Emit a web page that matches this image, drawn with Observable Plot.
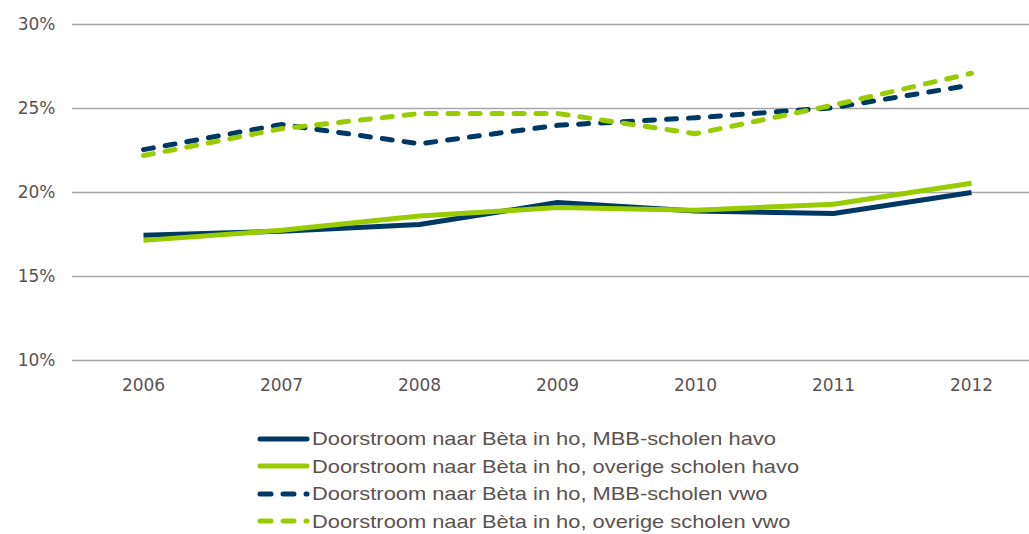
<!DOCTYPE html>
<html>
<head>
<meta charset="utf-8">
<script src="https://cdn.jsdelivr.net/npm/d3@7"></script>
<script src="https://cdn.jsdelivr.net/npm/@observablehq/plot@0.6"></script>
<style>
  body { margin: 0; background: #fff; }
  #legend { margin-left: 257px; margin-top: 25px; font-family: "Liberation Sans", Arial, sans-serif; font-size: 19px; color: #5a5250; }
  .item { height: 27.5px; line-height: 27.5px; display: flex; align-items: center; }
  .item svg { margin-right: 1px; }
  .item span { display: inline-block; transform: scaleX(1.15); transform-origin: left center; white-space: nowrap; }
</style>
</head>
<body>
<div id="chart"></div>
<div id="legend"></div>
<script>
const years = [2006, 2007, 2008, 2009, 2010, 2011, 2012];
const seriesNames = [
  "Doorstroom naar Bèta in ho, MBB-scholen havo",
  "Doorstroom naar Bèta in ho, overige scholen havo",
  "Doorstroom naar Bèta in ho, MBB-scholen vwo",
  "Doorstroom naar Bèta in ho, overige scholen vwo"
];
const mbbHavo     = [17.45, 17.7, 18.1, 19.4, 18.9, 18.75, 20.0];
const overigeHavo = [17.15, 17.75, 18.6, 19.1, 18.95, 19.3, 20.55];
const mbbVwo      = [22.55, 24.05, 22.9, 24.0, 24.45, 25.05, 26.4];
const overigeVwo  = [22.2, 23.8, 24.7, 24.7, 23.5, 25.2, 27.1];
const yTicks = [10, 15, 20, 25, 30];
const colors = ["#003865", "#99cc00", "#003865", "#99cc00"];
const dashed = [false, false, true, true];

const allValues = [mbbHavo, overigeHavo, mbbVwo, overigeVwo];
const data = [];
allValues.forEach((vals, s) => vals.forEach((v, i) => data.push({series: seriesNames[s], year: years[i], value: v})));

const lineMarks = seriesNames.map((name, s) =>
  Plot.line(data.filter(d => d.series === name), {
    x: "year", y: "value",
    stroke: colors[s], strokeWidth: 5,
    strokeLinecap: dashed[s] ? "round" : "butt",
    strokeLinejoin: "round",
    strokeDasharray: dashed[s] ? "10,12" : null
  })
);

const chart = Plot.plot({
  width: 1029,
  height: 400,
  marginLeft: 72,
  marginRight: 0,
  marginTop: 24,
  marginBottom: 40,
  style: {fontFamily: "DejaVu Sans, sans-serif", fontSize: "17px", color: "#5a5250", background: "#fff"},
  x: {type: "point", domain: years, range: [141, 973], padding: 0, label: null, tickSize: 0, tickPadding: 18, tickFormat: d => String(d)},
  y: {domain: [10, 30], label: null, ticks: yTicks, tickSize: 0, tickPadding: 17, tickFormat: d => d + "%"},
  marks: [
    Plot.ruleY(yTicks, {stroke: "#a6a6a6", strokeWidth: 1.5}),
    ...lineMarks
  ]
});
document.getElementById("chart").appendChild(chart);

const legend = document.getElementById("legend");
seriesNames.forEach((name, s) => {
  const item = document.createElement("div");
  item.className = "item";
  const sw = d3.create("svg").attr("width", 54).attr("height", 10);
  sw.append("line").attr("x1", 3).attr("x2", 50).attr("y1", 5).attr("y2", 5)
    .attr("stroke", colors[s]).attr("stroke-width", 5)
    .attr("stroke-linecap", "round")
    .attr("stroke-dasharray", dashed[s] ? "11,12" : null);
  item.appendChild(sw.node());
  const t = document.createElement("span");
  t.textContent = name;
  item.appendChild(t);
  legend.appendChild(item);
});
</script>
</body>
</html>
